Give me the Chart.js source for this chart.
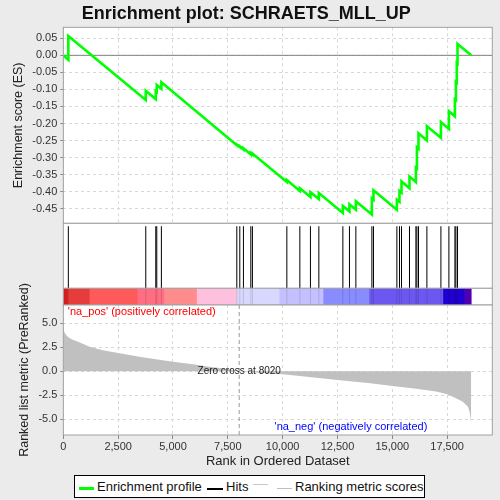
<!DOCTYPE html>
<html><head><meta charset="utf-8">
<script src="https://cdn.jsdelivr.net/npm/chart.js@4.4.1/dist/chart.umd.min.js"></script>
<style>
html,body{margin:0;padding:0;background:#ebebeb;width:500px;height:500px;overflow:hidden;font-family:"Liberation Sans",Arial,sans-serif}
canvas{position:absolute;left:0;top:0}
#legend{position:absolute;left:74px;top:475px;width:351px;height:23px;border:1px solid #000;background:#fff;box-sizing:border-box;font-size:13px;color:#111}
#legend span{position:absolute;top:3px;white-space:nowrap}
#legend i{position:absolute;display:block}
</style>
</head><body>
<canvas id="cES" width="500" height="500"></canvas>
<canvas id="cHits" width="500" height="500"></canvas>
<canvas id="cBar" width="500" height="500"></canvas>
<canvas id="cMetric" width="500" height="500"></canvas>
<div id="legend">
  <i style="left:4px;top:11px;width:15px;height:3px;background:#00ff00"></i><span style="left:22px">Enrichment profile</span>
  <i style="left:132px;top:12px;width:16px;height:1.5px;background:#000"></i><span style="left:151px">Hits</span>
  <i style="left:178px;top:8px;width:15px;height:1px;background:#c8c8c8"></i>
  <i style="left:202px;top:12px;width:15px;height:1px;background:#c0c0c0"></i><span style="left:220px">Ranking metric scores</span>
</div>
<script>
// ---------- data ----------
const chartTitle = 'Enrichment plot: SCHRAETS_MLL_UP';
const xMax = 19560;
const xTicks = [0, 2500, 5000, 7500, 10000, 12500, 15000, 17500];
const esTicks = [0.05, 0.00, -0.05, -0.10, -0.15, -0.20, -0.25, -0.30, -0.35, -0.40, -0.45];
const metricTicks = [5.0, 2.5, 0.0, -2.5, -5.0];
const zeroCross = 8020;

const esRanks = [0, 228, 228, 3759, 3759, 4215, 4215, 4261, 4261, 4471, 4471,
  7911, 7911, 8047, 8047, 8212, 8212, 8549, 8549, 8622, 8622,
  10192, 10192, 10785, 10785, 11268, 11268, 11651, 11651, 12746, 12746,
  13047, 13047, 13339, 13339, 14069, 14069, 14142, 14142, 15209, 15209,
  15328, 15328, 15420, 15420, 15784, 15784, 16076, 16076, 16122, 16122,
  16195, 16195, 16578, 16578, 17217, 17217, 17581, 17581, 17855, 17855,
  17900, 17900, 17940, 17940, 17974, 17974, 18600];
const esValues = [0.000, -0.013, 0.057, -0.131, -0.104, -0.129, -0.105, -0.107, -0.087, -0.098, -0.079,
  -0.264, -0.262, -0.269, -0.267, -0.276, -0.273, -0.291, -0.287, -0.291, -0.288,
  -0.372, -0.366, -0.398, -0.390, -0.416, -0.402, -0.422, -0.404, -0.463, -0.442,
  -0.458, -0.437, -0.453, -0.428, -0.467, -0.420, -0.424, -0.396, -0.453, -0.424,
  -0.430, -0.398, -0.403, -0.370, -0.390, -0.356, -0.372, -0.330, -0.332, -0.270,
  -0.274, -0.229, -0.250, -0.208, -0.242, -0.196, -0.216, -0.164, -0.179, -0.129,
  -0.131, -0.078, -0.080, -0.022, -0.024, 0.033, 0.000];

const hitRanks = [228, 3759, 4215, 4261, 4471, 7911, 8047, 8212, 8549, 8622,
  10192, 10785, 11268, 11651, 12746, 13047, 13339, 14069, 14142, 15209,
  15328, 15420, 15784, 16076, 16122, 16195, 16578, 17217, 17581, 17855, 17900, 17974];

const metricRanks = [0, 80, 125, 230, 380, 700, 1200, 1800, 2500, 3600, 5000, 6000, 6650, 7500, 8020,
  9000, 10000, 11000, 12500, 14000, 15000, 16000, 16250, 17000, 17500, 17900, 18200, 18450, 18520, 18570, 18590, 18600];
const metricValues = [4.25, 3.95, 3.78, 3.54, 3.33, 3.05, 2.55, 2.2, 1.9, 1.46, 1.0, 0.7, 0.48, 0.24, 0.0,
  -0.15, -0.3, -0.55, -0.9, -1.25, -1.53, -1.8, -1.88, -2.12, -2.4, -2.8, -3.16, -3.7, -4.2, -4.9, -5.5, -6.1];

const barStarts = [0, 182, 1184, 3370, 4586, 6075, 7897, 9837, 11840, 13935, 17305, 18293];
const barEnds   = [182, 1184, 3370, 4586, 6075, 7897, 9837, 11840, 13935, 17305, 18293, 18600];
const barColors = ['#d41c1c', '#e63c3c', '#ff5a5a', '#ff6e82', '#ff8c8c', '#ffc0e0',
  '#d8d8ff', '#c4c0ff', '#888cff', '#6c58f0', '#2000d0', '#5000b0'];

// ---------- layout ----------
const FONT = '"Liberation Sans", Arial, sans-serif';
const PLOT_LEFT = 63.33, PLOT_RIGHT = 492.3;
const ES_BOTTOM = 223.33, HITS_BOTTOM = 288.3, BAR_BOTTOM = 305, METRIC_BOTTOM = 435;
const ES_MIN = -0.4931, ES_MAX = 0.0822, M_MIN = -6.64, M_MAX = 6.9;

const panelPlugin = {
  id: 'panel',
  beforeDraw(chart) {
    const a = chart.chartArea, ctx = chart.ctx;
    ctx.save(); ctx.fillStyle = '#fff'; ctx.fillRect(a.left, a.top, a.right - a.left, a.bottom - a.top); ctx.restore();
  },
  afterDraw(chart) {
    const a = chart.chartArea, ctx = chart.ctx;
    ctx.save(); ctx.strokeStyle = '#a0a0a0'; ctx.lineWidth = 1;
    ctx.strokeRect(a.left, a.top, a.right - a.left, a.bottom - a.top); ctx.restore();
  }
};

function xAxis(showGrid) {
  return {
    type: 'linear', min: 0, max: xMax,
    afterBuildTicks: s => { s.ticks = xTicks.map(v => ({ value: v })); },
    ticks: { display: false },
    grid: { display: showGrid, color: '#d8d8d8', drawTicks: false },
    border: { display: false, dash: [3, 3] },
    afterFit: s => { s.height = 0; }
  };
}
function pad(top, bottom) { return { left: 0, right: 500 - PLOT_RIGHT, top: top, bottom: 500 - bottom }; }
const base = { responsive: false, animation: false, events: [] };

// ES panel
new Chart(document.getElementById('cES'), {
  type: 'line',
  data: { datasets: [
    { data: esRanks.map((r, i) => ({ x: r, y: esValues[i] })), borderColor: '#00ff00', borderWidth: 2.6, pointRadius: 0, order: 0 },
    { data: [{ x: 0, y: 0 }, { x: xMax, y: 0 }], borderColor: '#808080', borderWidth: 1, pointRadius: 0, order: 1 }
  ] },
  options: Object.assign({}, base, {
    layout: { padding: pad(0, ES_BOTTOM) },
    plugins: { legend: { display: false }, tooltip: { enabled: false },
      title: { display: true, text: chartTitle, color: '#111', font: { family: FONT, size: 18, weight: 'bold' }, padding: { top: 3, bottom: 2.73 } } },
    scales: {
      x: xAxis(true),
      y: { type: 'linear', min: ES_MIN, max: ES_MAX,
        afterBuildTicks: s => { s.ticks = esTicks.map(v => ({ value: v })); },
        afterFit: s => { s.width = PLOT_LEFT; },
        ticks: { callback: v => v.toFixed(2), color: '#333', font: { family: FONT, size: 11 }, padding: 3 },
        grid: { color: '#d8d8d8', tickLength: 3, tickColor: '#888', tickBorderDash: [] },
        border: { display: false, dash: [3, 3] },
        title: { display: true, text: 'Enrichment score (ES)', color: '#222', font: { family: FONT, size: 12.5 }, padding: { top: 11, bottom: 0 } } }
    }
  }),
  plugins: [panelPlugin]
});

// Hits panel
const hitData = [];
hitRanks.forEach(r => { hitData.push({ x: r, y: 0 }, { x: r, y: 0.955 }, { x: r, y: null }); });
new Chart(document.getElementById('cHits'), {
  type: 'line',
  data: { datasets: [{ data: hitData, borderColor: '#000', borderWidth: 1, pointRadius: 0, spanGaps: false }] },
  options: Object.assign({}, base, {
    layout: { padding: pad(ES_BOTTOM, HITS_BOTTOM) },
    plugins: { legend: { display: false }, tooltip: { enabled: false } },
    scales: {
      x: xAxis(false),
      y: { type: 'linear', min: 0, max: 1, ticks: { display: false }, grid: { display: false }, border: { display: false },
        afterFit: s => { s.width = PLOT_LEFT; } }
    }
  }),
  plugins: [panelPlugin]
});

// Colour bar (hits show faintly through it)
const barHitPlugin = {
  id: 'barHits',
  afterDatasetsDraw(chart) {
    const ctx = chart.ctx, xs = chart.scales.x, a = chart.chartArea;
    ctx.save(); ctx.strokeStyle = 'rgba(0,0,0,0.13)'; ctx.lineWidth = 1;
    hitRanks.forEach(r => { const px = xs.getPixelForValue(r); ctx.beginPath(); ctx.moveTo(px, a.top); ctx.lineTo(px, a.bottom); ctx.stroke(); });
    ctx.restore();
  }
};
new Chart(document.getElementById('cBar'), {
  type: 'bar',
  data: { labels: ['rank'], datasets: barStarts.map((s, i) => ({
    data: [[s, barEnds[i]]], backgroundColor: barColors[i], borderWidth: 0,
    barPercentage: 1, categoryPercentage: 1, grouped: false })) },
  options: Object.assign({}, base, {
    indexAxis: 'y',
    layout: { padding: pad(HITS_BOTTOM, BAR_BOTTOM) },
    plugins: { legend: { display: false }, tooltip: { enabled: false } },
    scales: {
      x: xAxis(false),
      y: { type: 'category', ticks: { display: false }, grid: { display: false }, border: { display: false },
        afterFit: s => { s.width = PLOT_LEFT; } }
    }
  }),
  plugins: [panelPlugin, barHitPlugin]
});

// Metric panel
const textPlugin = {
  id: 'metricText',
  afterDraw(chart) {
    const ctx = chart.ctx, xs = chart.scales.x, ys = chart.scales.y;
    ctx.save();
    ctx.font = '11px ' + FONT; ctx.textBaseline = 'middle';
    ctx.fillStyle = '#ff0000'; ctx.textAlign = 'left';
    ctx.fillText("'na_pos' (positively correlated)", xs.getPixelForValue(0) + 4.5, BAR_BOTTOM + 6.5);
    ctx.fillStyle = '#0000ff'; ctx.textAlign = 'left';
    ctx.fillText("'na_neg' (negatively correlated)", xs.getPixelForValue(9630), METRIC_BOTTOM - 8);
    ctx.font = '10px ' + FONT; ctx.fillStyle = '#222'; ctx.textAlign = 'center';
    ctx.fillText('Zero cross at ' + zeroCross, xs.getPixelForValue(zeroCross), ys.getPixelForValue(0));
    ctx.restore();
  }
};
new Chart(document.getElementById('cMetric'), {
  type: 'line',
  data: { datasets: [
    { data: metricRanks.map((r, i) => ({ x: r, y: metricValues[i] })), borderWidth: 0, borderColor: '#c0c0c0',
      backgroundColor: '#c0c0c0', fill: 'origin', pointRadius: 0, order: 1 },
    { data: [{ x: zeroCross, y: M_MIN }, { x: zeroCross, y: M_MAX }], borderColor: '#999', borderWidth: 1,
      borderDash: [4, 3], pointRadius: 0, order: 0 }
  ] },
  options: Object.assign({}, base, {
    layout: { padding: { left: 0, right: 500 - PLOT_RIGHT, top: BAR_BOTTOM, bottom: 30 } },
    plugins: { legend: { display: false }, tooltip: { enabled: false } },
    scales: {
      x: { type: 'linear', min: 0, max: xMax,
        afterBuildTicks: s => { s.ticks = xTicks.map(v => ({ value: v })); },
        afterFit: s => { s.height = 500 - 30 - METRIC_BOTTOM; },
        ticks: { callback: v => v.toLocaleString('en-US'), color: '#333', font: { family: FONT, size: 11 }, padding: 1, maxRotation: 0 },
        grid: { color: '#d8d8d8', tickLength: 4, tickColor: '#888', tickBorderDash: [] },
        border: { display: false, dash: [3, 3] },
        title: { display: true, text: 'Rank in Ordered Dataset', color: '#222', font: { family: FONT, size: 13 }, padding: { top: 0, bottom: 1.2 } } },
      y: { type: 'linear', min: M_MIN, max: M_MAX,
        afterBuildTicks: s => { s.ticks = metricTicks.map(v => ({ value: v })); },
        afterFit: s => { s.width = PLOT_LEFT; },
        ticks: { callback: v => v.toFixed(1), color: '#333', font: { family: FONT, size: 11 }, padding: 3 },
        grid: { color: '#d8d8d8', tickLength: 3, tickColor: '#888', tickBorderDash: [] },
        border: { display: false, dash: [3, 3] },
        title: { display: true, text: 'Ranked list metric (PreRanked)', color: '#222', font: { family: FONT, size: 12.5 }, padding: { top: 17, bottom: 0 } } }
    }
  }),
  plugins: [panelPlugin, textPlugin]
});
</script>
</body></html>
